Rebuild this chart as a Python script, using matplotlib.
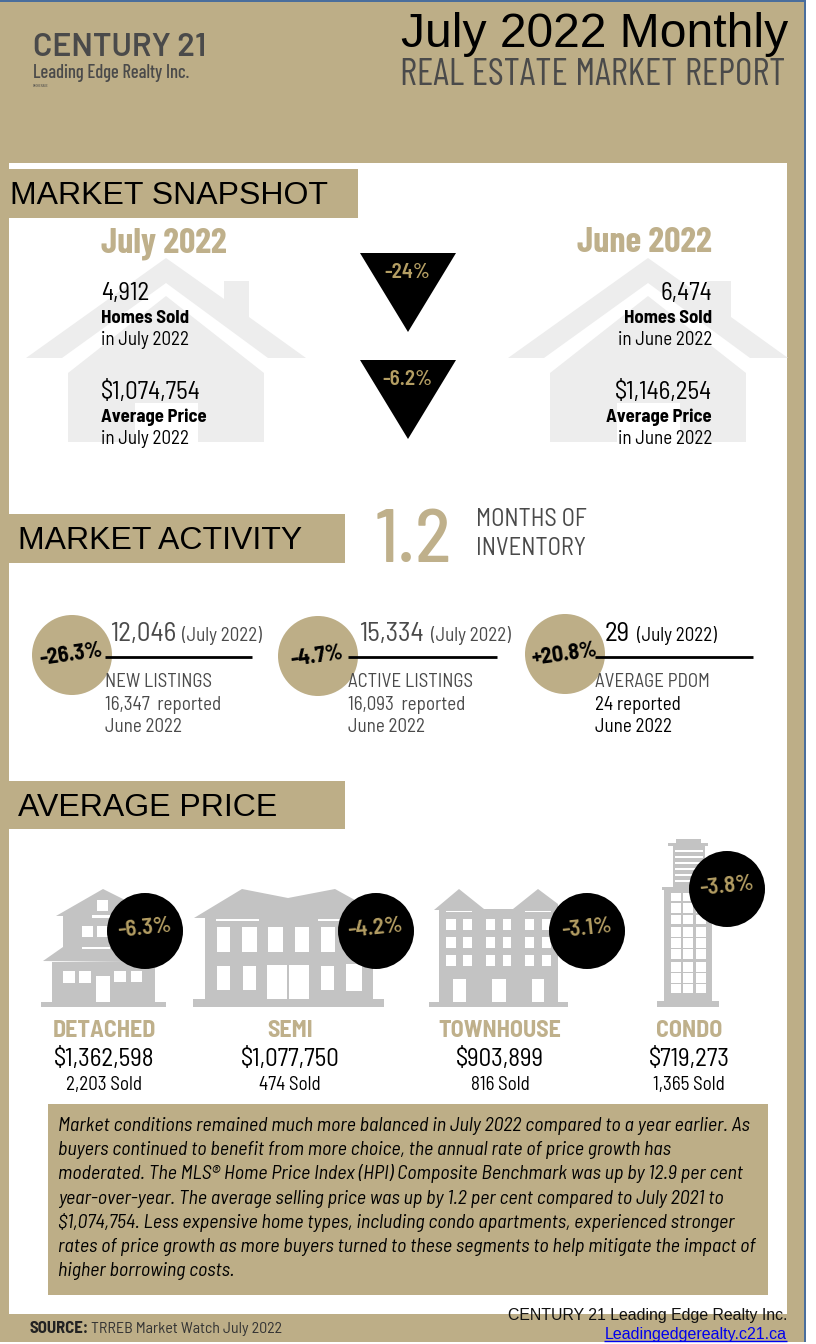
"""July 2022 market report infographic, drawn in pixel coordinates."""

import matplotlib
matplotlib.use("Agg")
import matplotlib.pyplot as plt
from matplotlib.patches import Circle, Polygon, Rectangle

W, H = 816, 1344
TAN = "#BDAE87"
GOLD = "#B49E63"
HEAD = "#BFB08B"
DARK = "#4A4A4A"
ICON = "#C3C3C3"
HOUSE = "#EDEDED"
NARROW = ["Barlow Condensed", "Roboto"]
SEMI = ["Barlow Semi Condensed", "Roboto"]
WIDE = ["Barlow", "Roboto"]
ARIAL = ["Liberation Sans", "DejaVu Sans"]

# Snapshot
snapshot_periods = ["July 2022", "June 2022"]
homes_sold = ["4,912", "6,474"]
average_price = ["$1,074,754", "$1,146,254"]
snapshot_changes = ["-24%", "-6.2%"]

# Market activity
months_inventory = "1.2"
activity_values = ["12,046", "15,334", "29"]
activity_changes = ["-26.3%", "-4.7%", "+20.8%"]
activity_names = ["NEW LISTINGS", "ACTIVE LISTINGS", "AVERAGE PDOM"]
activity_previous = ["16,347  reported", "16,093  reported", "24 reported"]

# Average price by home type
home_types = ["DETACHED", "SEMI", "TOWNHOUSE", "CONDO"]
type_prices = ["$1,362,598", "$1,077,750", "$903,899", "$719,273"]
type_sold = ["2,203 Sold", "474 Sold", "816 Sold", "1,365 Sold"]
type_changes = ["-6.3%", "-4.2%", "-3.1%", "-3.8%"]

commentary = [
    "Market conditions remained much more balanced in July 2022 compared to a year earlier. As",
    "buyers continued to benefit from more choice, the annual rate of price growth has",
    "moderated. The MLS® Home Price Index (HPI) Composite Benchmark was up by 12.9 per cent",
    "year-over-year. The average selling price was up by 1.2 per cent compared to July 2021 to",
    "$1,074,754. Less expensive home types, including condo apartments, experienced stronger",
    "rates of price growth as more buyers turned to these segments to help mitigate the impact of",
    "higher borrowing costs.",
]

fig = plt.figure(figsize=(W / 100, H / 100), dpi=100)
ax = fig.add_axes([0, 0, 1, 1])
ax.set_xlim(0, W)
ax.set_ylim(H, 0)
ax.axis("off")


def txt(x, y, s, px, color="black", family=NARROW, weight="normal", ha="left",
        style="normal", rotation=0, va="baseline", zorder=5):
    # px is the font size in image pixels
    return ax.text(x, y, s, fontsize=px * 0.72, color=color, family=family, weight=weight,
                   ha=ha, style=style, rotation=rotation, va=va, zorder=zorder,
                   rotation_mode="anchor")


def box(x0, y0, x1, y1, color, zorder=1):
    ax.add_patch(Rectangle((x0, y0), x1 - x0, y1 - y0, fc=color, ec="none", zorder=zorder))


def poly(points, color, zorder=2):
    ax.add_patch(Polygon(points, closed=True, fc=color, ec="none", zorder=zorder))


def zoom_box(x_off, y_off, x0, y0, x1, y1, color="white", zorder=3):
    # boxes measured on the 3x crops
    box(x_off + x0 / 3, y_off + y0 / 3, x_off + x1 / 3, y_off + y1 / 3, color, zorder)


# page frame
box(0, 0, 806, 1342, TAN, 0)
box(0, 0, 806, 2, "#4A6E9C", 1)
box(804, 0, 806, 1342, "#4A6E9C", 1)
box(9, 163, 787, 1314, "white", 1)

# header
txt(33, 56, "CENTURY 21", 32, DARK, WIDE, "semibold")
txt(33, 78, "Leading Edge Realty Inc.", 18.5, DARK, NARROW, "medium")
txt(33, 87, "BROKERAGE", 4, DARK)
txt(788, 47, "July 2022 Monthly", 48, "black", ARIAL, ha="right")
txt(785, 85, "REAL ESTATE MARKET REPORT", 38, DARK, ha="right")

# section tabs
for x1, y0, y1, tx, ty, label in [(358, 169, 218, 10, 204, "MARKET SNAPSHOT"),
                                  (345, 514, 563, 18, 549, "MARKET ACTIVITY"),
                                  (345, 781, 829, 18, 816, "AVERAGE PRICE")]:
    box(9, y0, x1, y1, TAN, 2)
    txt(tx, ty, label, 32, "black", ARIAL)


def house(dx):
    poly([(26 + dx, 358), (166 + dx, 258), (224 + dx, 299), (224 + dx, 281), (249 + dx, 281),
          (249 + dx, 317), (306 + dx, 358), (268 + dx, 358), (166 + dx, 283), (62 + dx, 358)], HOUSE)
    poly([(68 + dx, 373), (166 + dx, 296), (264 + dx, 373), (264 + dx, 442), (198 + dx, 442),
          (198 + dx, 403), (135 + dx, 403), (135 + dx, 442), (68 + dx, 442)], HOUSE)


house(0)
house(482)

# snapshot columns
for i, (x, ha) in enumerate([(101, "left"), (712, "right")]):
    period = snapshot_periods[i]
    txt(x, 252, period, 36, HEAD, NARROW, "bold", ha)
    txt(x, 300, homes_sold[i], 25, "black", SEMI, ha=ha)
    txt(x, 323, "Homes Sold", 18.7, "black", SEMI, "bold", ha)
    txt(x, 345, "in " + period, 19, "black", SEMI, ha=ha)
    txt(x, 399, average_price[i], 25, "black", SEMI, ha=ha)
    txt(x, 422, "Average Price", 18.7, "black", SEMI, "bold", ha)
    txt(x, 444, "in " + period, 19, "black", SEMI, ha=ha)

for i, top in enumerate([253, 360]):
    poly([(360, top), (456, top), (408, top + 79)], "black", 3)
    txt(407, top + 25, snapshot_changes[i], 21, GOLD, SEMI, "semibold", "center")

# market activity
txt(375, 562, months_inventory, 75, HEAD, SEMI, "medium")
txt(476, 526, "MONTHS OF", 24.5, DARK, SEMI)
txt(476, 555, "INVENTORY", 24.5, DARK, SEMI)

circle_x = [72, 318, 565]
circle_y = [655, 656, 654]
value_x = [110, 359, 605]
period_right = [262, 511, 717]
line_x = [(105, 252), (348, 497), (595, 753)]
name_x = [105, 348, 595]
for i in range(3):
    soft = "black" if i == 2 else DARK
    ax.add_patch(Circle((circle_x[i], circle_y[i]), 40, fc=TAN, ec="none", zorder=3))
    txt(circle_x[i], circle_y[i] + 6, activity_changes[i], 22, "black", SEMI, "bold", "center",
        rotation=8)
    txt(value_x[i], 641, activity_values[i], 27, soft, SEMI)
    txt(period_right[i], 641, "(July 2022)", 19, soft, SEMI, ha="right")
    ax.plot(line_x[i], [657, 657], color="black", lw=2, solid_capstyle="butt", zorder=3)
    txt(name_x[i], 687, activity_names[i], 19, DARK, SEMI)
    txt(name_x[i], 710, activity_previous[i], 19, soft, SEMI)
    txt(name_x[i], 732, "June 2022", 19, soft, SEMI)

# detached icon
box(41, 1002, 166, 1007, ICON, 2)
box(52, 962, 155, 1003, ICON, 2)
poly([(43, 961), (63, 947), (63, 916), (56, 916), (103, 889), (127, 901), (127, 962)], ICON)
for b in [(292, 210, 325, 242), (245, 287, 280, 320), (292, 287, 325, 320), (245, 350, 330, 358),
          (277, 256, 330, 265), (190, 423, 226, 460), (238, 423, 274, 460), (342, 423, 378, 457),
          (392, 423, 425, 457), (288, 438, 330, 517)]:
    zoom_box(0, 830, *b)

# semi icon
box(193, 999, 384, 1007, ICON, 2)
box(205, 917, 373, 1000, ICON, 2)
poly([(194, 918), (242, 889), (288, 898), (335, 889), (373, 910), (373, 918)], ICON)
for x0, x1 in [(650, 690), (726, 770), (805, 848), (884, 928), (962, 1005)]:
    zoom_box(0, 830, x0, 290, x1, 365)
for b in [(650, 407, 690, 480), (728, 407, 768, 480), (802, 404, 862, 508), (868, 404, 928, 508),
          (963, 407, 1003, 480), (1038, 403, 1085, 483), (648, 266, 777, 273), (955, 266, 1040, 273)]:
    zoom_box(0, 830, *b)

# townhouse icon
box(429, 1002, 568, 1007, ICON, 2)
box(439, 909, 558, 1003, ICON, 2)
poly([(434, 910), (459, 889), (484, 909), (513, 909), (538, 889), (558, 904), (558, 910)], ICON)
for y0, y1 in [(268, 300), (322, 354), (376, 408)]:
    for x0, x1 in [(108, 137), (159, 186), (228, 255), (278, 304), (345, 373), (395, 423)]:
        zoom_box(410, 830, x0, y0, x1, y1)
for x0, x1 in [(128, 167), (247, 287), (365, 403)]:
    zoom_box(410, 830, x0, 447, x1, 516)
for x0, x1 in [(108, 185), (345, 423)]:
    zoom_box(410, 830, x0, 242, x1, 246)

# condo icon
zoom_box(410, 830, 742, 512, 927, 530, ICON, 2)
zoom_box(410, 830, 763, 175, 905, 515, ICON, 2)
zoom_box(410, 830, 790, 45, 885, 172, ICON, 2)
zoom_box(410, 830, 775, 40, 895, 48, ICON, 2)
zoom_box(410, 830, 798, 28, 873, 40, ICON, 2)
zoom_box(410, 830, 757, 170, 900, 180, ICON, 2)
for y0 in [60, 78, 96, 114, 132, 150]:
    zoom_box(410, 830, 795, y0, 880, y0 + 6)
for y0, y1 in [(188, 212), (220, 250), (255, 283), (290, 320), (325, 355), (358, 388), (395, 425),
               (428, 458), (462, 490)]:
    for x0, x1 in [(783, 813), (820, 850), (857, 887)]:
        zoom_box(410, 830, x0, y0, x1, y1)

# home type captions and badges
label_x = [104, 290, 500, 689]
badge_x = [145, 376, 587, 727]
badge_y = [931, 931, 931, 889]
for i in range(4):
    ax.add_patch(Circle((badge_x[i], badge_y[i]), 38, fc="black", ec="none", zorder=4))
    txt(badge_x[i], badge_y[i] + 3, type_changes[i], 23, GOLD, SEMI, "semibold", "center", rotation=6)
    txt(label_x[i], 1037, home_types[i], 24, HEAD, SEMI, "bold", "center")
    txt(label_x[i], 1066, type_prices[i], 25, "black", SEMI, ha="center")
    txt(label_x[i], 1090, type_sold[i], 19, "black", SEMI, ha="center")

# commentary
box(48, 1104, 768, 1295, TAN, 2)
for i, line in enumerate(commentary):
    txt(58, 1131 + i * 24.2, line, 19.9, "black", SEMI, style="italic")

# footer
txt(30, 1333, "SOURCE:", 16.8, "#222222", SEMI, "bold")
txt(91, 1333, "TRREB Market Watch July 2022", 15.9, "#333333", SEMI)
txt(787, 1320, "CENTURY 21 Leading Edge Realty Inc.", 15.9, "#111111", ARIAL, ha="right")
txt(787, 1339, "Leadingedgerealty.c21.ca", 16, "#0000EE", ARIAL, ha="right")
ax.plot([604, 787], [1341, 1341], color="#0000EE", lw=1, solid_capstyle="butt", zorder=5)

fig.savefig("out.png", dpi=100)
plt.close(fig)
